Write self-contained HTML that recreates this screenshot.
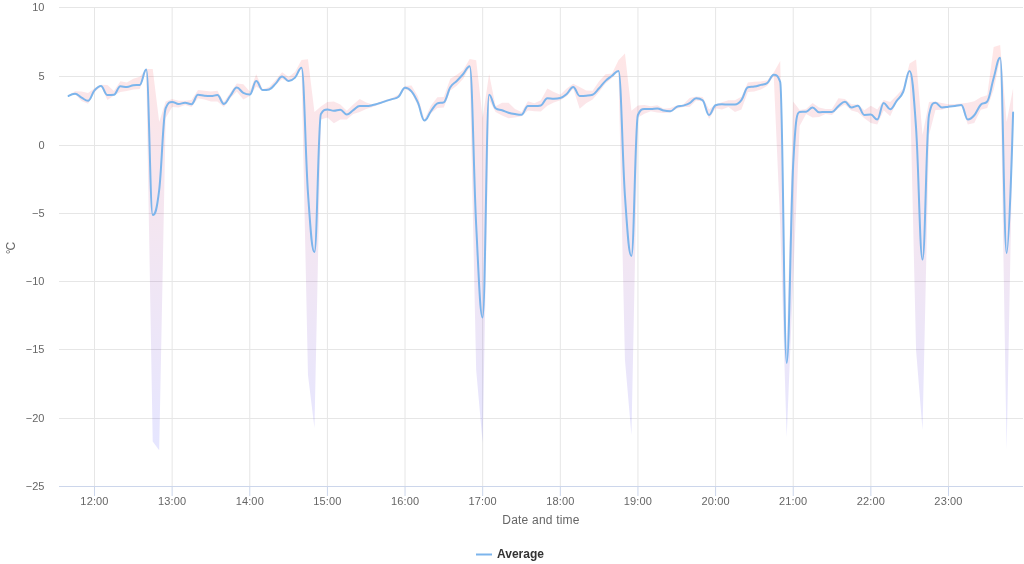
<!DOCTYPE html>
<html><head><meta charset="utf-8"><title>Chart</title>
<style>
html,body{margin:0;padding:0;background:#fff;}
body{width:1024px;height:564px;overflow:hidden;}
svg{display:block;font-family:"Liberation Sans",Arial,sans-serif;}
</style></head><body>
<svg width="1024" height="564" viewBox="0 0 1024 564">
<defs><linearGradient id="rg" x1="0" y1="0" x2="0" y2="1">
<stop offset="0" stop-color="#ff0000" stop-opacity="0.1"/>
<stop offset="1" stop-color="#0000ff" stop-opacity="0.1"/>
</linearGradient>
<clipPath id="pc"><rect x="59" y="0" width="965" height="486"/></clipPath></defs>
<rect width="1024" height="564" fill="#ffffff"/>
<g>
<g><path d="M94.50 7 V486" stroke="#e6e6e6" stroke-width="1"/><path d="M172.14 7 V486" stroke="#e6e6e6" stroke-width="1"/><path d="M249.77 7 V486" stroke="#e6e6e6" stroke-width="1"/><path d="M327.41 7 V486" stroke="#e6e6e6" stroke-width="1"/><path d="M405.04 7 V486" stroke="#e6e6e6" stroke-width="1"/><path d="M482.68 7 V486" stroke="#e6e6e6" stroke-width="1"/><path d="M560.32 7 V486" stroke="#e6e6e6" stroke-width="1"/><path d="M637.95 7 V486" stroke="#e6e6e6" stroke-width="1"/><path d="M715.59 7 V486" stroke="#e6e6e6" stroke-width="1"/><path d="M793.22 7 V486" stroke="#e6e6e6" stroke-width="1"/><path d="M870.86 7 V486" stroke="#e6e6e6" stroke-width="1"/><path d="M948.50 7 V486" stroke="#e6e6e6" stroke-width="1"/></g><g shape-rendering="crispEdges"><path d="M59 7.5 H1023" stroke="#e6e6e6" stroke-width="1"/><path d="M59 76.5 H1023" stroke="#e6e6e6" stroke-width="1"/><path d="M59 145.5 H1023" stroke="#e6e6e6" stroke-width="1"/><path d="M59 213.5 H1023" stroke="#e6e6e6" stroke-width="1"/><path d="M59 281.5 H1023" stroke="#e6e6e6" stroke-width="1"/><path d="M59 349.5 H1023" stroke="#e6e6e6" stroke-width="1"/><path d="M59 418.5 H1023" stroke="#e6e6e6" stroke-width="1"/></g>
<g clip-path="url(#pc)">
<path d="M68.62 95.20 L75.09 91.30 L81.56 91.60 L88.03 92.90 L94.50 88.20 L100.97 84.75 L107.44 85.00 L113.91 91.00 L120.38 81.20 L126.84 82.50 L133.31 78.70 L139.78 76.80 L146.25 69.00 L152.72 69.00 L159.19 122.00 L165.66 101.40 L172.13 98.90 L178.60 100.75 L185.07 100.75 L191.54 100.10 L198.00 90.10 L204.47 90.75 L210.94 91.40 L217.41 90.75 L223.88 102.00 L230.35 92.60 L236.82 83.60 L243.29 84.20 L249.76 91.40 L256.23 74.20 L262.69 89.20 L269.16 87.00 L275.63 80.10 L282.10 72.30 L288.57 77.00 L295.04 72.00 L301.51 60.10 L307.98 59.20 L314.45 112.00 L320.92 106.40 L327.38 102.00 L333.85 101.40 L340.32 104.50 L346.79 110.75 L353.26 104.50 L359.73 98.90 L366.20 102.60 L372.67 104.50 L379.14 102.00 L385.61 100.00 L392.07 98.00 L398.54 94.50 L405.01 85.90 L411.48 85.50 L417.95 96.40 L424.42 119.50 L430.89 105.80 L437.36 97.20 L443.83 97.00 L450.30 78.70 L456.76 74.75 L463.23 70.00 L469.70 59.10 L476.17 60.30 L482.64 118.00 L489.11 74.00 L495.58 106.30 L502.05 102.70 L508.52 102.70 L514.99 109.10 L521.45 112.00 L527.92 101.30 L534.39 103.30 L540.86 100.20 L547.33 88.50 L553.80 92.00 L560.27 94.75 L566.74 88.50 L573.21 83.80 L579.67 86.90 L586.14 90.50 L592.61 90.70 L599.08 81.25 L605.55 74.20 L612.02 73.40 L618.49 60.20 L624.96 53.50 L631.43 110.80 L637.90 105.60 L644.37 105.00 L650.83 106.25 L657.30 105.30 L663.77 108.75 L670.24 108.10 L676.71 105.60 L683.18 104.40 L689.65 98.10 L696.12 96.50 L702.59 97.10 L709.06 109.60 L715.52 104.20 L721.99 102.20 L728.46 100.20 L734.93 100.20 L741.40 96.80 L747.87 82.50 L754.34 81.80 L760.81 81.40 L767.28 80.20 L773.75 72.40 L780.21 61.10 L786.68 355.00 L793.15 101.40 L799.62 110.10 L806.09 108.90 L812.56 102.90 L819.03 107.60 L825.50 108.90 L831.97 108.90 L838.44 98.25 L844.90 98.90 L851.37 104.20 L857.84 104.50 L864.31 110.20 L870.78 105.80 L877.25 109.50 L883.72 100.10 L890.19 102.10 L896.66 95.40 L903.12 88.60 L909.59 63.40 L916.06 59.60 L922.53 135.00 L929.00 102.00 L935.47 101.60 L941.94 103.10 L948.41 104.30 L954.88 103.90 L961.35 103.50 L967.82 102.75 L974.28 101.20 L980.75 97.30 L987.22 95.30 L993.69 47.10 L1000.16 45.00 L1006.63 122.00 L1013.10 88.20 L1013.10 113.00 L1006.63 450.00 L1000.16 58.50 L993.69 89.60 L987.22 108.00 L980.75 109.80 L974.28 123.00 L967.82 124.60 L961.35 105.90 L954.88 106.70 L948.41 107.40 L941.94 109.80 L935.47 110.00 L929.00 135.00 L922.53 430.00 L916.06 350.00 L909.59 72.00 L903.12 93.00 L896.66 102.10 L890.19 116.30 L883.72 110.20 L877.25 124.40 L870.78 123.00 L864.31 118.30 L857.84 112.20 L851.37 110.50 L844.90 104.50 L838.44 108.25 L831.97 115.10 L825.50 113.90 L819.03 117.00 L812.56 117.60 L806.09 113.90 L799.62 126.00 L793.15 280.00 L786.68 437.00 L780.21 224.00 L773.75 76.00 L767.28 85.70 L760.81 89.60 L754.34 91.50 L747.87 92.10 L741.40 109.60 L734.93 112.00 L728.46 106.90 L721.99 109.60 L715.52 108.30 L709.06 119.00 L702.59 101.50 L696.12 100.60 L689.65 106.90 L683.18 106.90 L676.71 108.75 L670.24 112.50 L663.77 113.10 L657.30 112.50 L650.83 111.25 L644.37 113.75 L637.90 117.50 L631.43 435.00 L624.96 360.00 L618.49 71.00 L612.02 78.00 L605.55 83.60 L599.08 92.00 L592.61 99.40 L586.14 103.30 L579.67 108.80 L573.21 88.50 L566.74 96.30 L560.27 100.20 L553.80 102.60 L547.33 105.70 L540.86 111.50 L534.39 111.20 L527.92 110.50 L521.45 116.20 L514.99 117.60 L508.52 118.30 L502.05 115.50 L495.58 112.00 L489.11 100.00 L482.64 443.00 L476.17 370.00 L469.70 67.00 L463.23 78.70 L456.76 85.70 L450.30 90.40 L443.83 107.40 L437.36 108.10 L430.89 113.60 L424.42 121.80 L417.95 105.80 L411.48 92.50 L405.01 88.80 L398.54 97.80 L392.07 100.00 L385.61 102.00 L379.14 104.50 L372.67 107.00 L366.20 108.90 L359.73 112.00 L353.26 113.90 L346.79 119.50 L340.32 119.50 L333.85 123.25 L327.38 117.60 L320.92 119.50 L314.45 428.00 L307.98 375.00 L301.51 68.00 L295.04 78.60 L288.57 81.90 L282.10 78.90 L275.63 85.10 L269.16 90.10 L262.69 90.75 L256.23 86.40 L249.76 96.00 L243.29 99.50 L236.82 91.40 L230.35 98.25 L223.88 107.00 L217.41 101.40 L210.94 101.40 L204.47 99.50 L198.00 98.25 L191.54 107.00 L185.07 105.00 L178.60 107.60 L172.13 107.00 L165.66 118.00 L159.19 450.30 L152.72 441.60 L146.25 70.00 L139.78 89.00 L133.31 89.60 L126.84 90.90 L120.38 92.00 L113.91 95.40 L107.44 100.00 L100.97 86.60 L94.50 92.30 L88.03 103.80 L81.56 101.00 L75.09 94.10 L68.62 96.30 Z" fill="url(#rg)" stroke="none"/>
<path d="M 68.62 95.90 C 68.62 95.90 72.51 93.80 75.09 93.80 C 77.68 93.80 78.97 96.22 81.56 97.60 C 84.15 98.98 85.44 100.70 88.03 100.70 C 90.62 100.70 91.91 93.34 94.50 90.40 C 97.09 87.46 98.38 86.00 100.97 86.00 C 103.56 86.00 104.85 95.10 107.44 95.10 C 110.03 95.10 111.32 95.10 113.91 94.75 C 116.49 94.40 117.79 86.30 120.38 86.30 C 122.96 86.30 124.26 87.00 126.84 87.00 C 129.43 87.00 130.73 85.60 133.31 85.25 C 135.90 84.90 137.20 85.25 139.78 84.90 C 142.37 84.55 143.66 69.60 146.25 69.60 C 148.84 69.60 150.13 215.00 152.72 215.00 C 155.31 215.00 156.60 211.35 159.19 190.00 C 161.78 168.65 163.07 114.60 165.66 108.25 C 168.25 101.90 169.54 101.90 172.13 101.90 C 174.72 101.90 176.01 104.00 178.60 104.00 C 181.18 104.00 182.48 102.80 185.07 102.80 C 187.65 102.80 188.95 104.20 191.54 104.20 C 194.12 104.20 195.42 94.80 198.00 94.80 C 200.59 94.80 201.89 95.49 204.47 95.75 C 207.06 96.01 208.35 96.10 210.94 96.10 C 213.53 96.10 214.82 95.10 217.41 95.10 C 220.00 95.10 221.29 103.90 223.88 103.90 C 226.47 103.90 227.76 99.01 230.35 95.75 C 232.94 92.49 234.23 87.60 236.82 87.60 C 239.41 87.60 240.70 91.50 243.29 92.90 C 245.87 94.30 247.17 94.60 249.76 94.60 C 252.34 94.60 253.64 81.10 256.23 81.10 C 258.81 81.10 260.11 90.10 262.69 90.10 C 265.28 90.10 266.58 90.10 269.16 89.50 C 271.75 88.90 273.04 86.20 275.63 83.60 C 278.22 81.00 279.51 76.50 282.10 76.50 C 284.69 76.50 285.98 80.90 288.57 80.90 C 291.16 80.90 292.45 80.24 295.04 77.60 C 297.63 74.96 298.92 67.70 301.51 67.70 C 304.10 67.70 305.39 156.14 307.98 193.00 C 310.56 229.86 311.86 252.00 314.45 252.00 C 317.03 252.00 318.33 118.50 320.92 114.00 C 323.50 109.50 324.80 109.50 327.38 109.50 C 329.97 109.50 331.27 110.75 333.85 110.75 C 336.44 110.75 337.73 109.80 340.32 109.80 C 342.91 109.80 344.20 114.50 346.79 114.50 C 349.38 114.50 350.67 111.78 353.26 110.10 C 355.85 108.42 357.14 106.10 359.73 106.10 C 362.32 106.10 363.61 106.10 366.20 106.10 C 368.79 106.10 370.08 105.66 372.67 105.10 C 375.25 104.54 376.55 104.10 379.14 103.30 C 381.72 102.50 383.02 101.94 385.61 101.10 C 388.19 100.26 389.49 99.96 392.07 99.10 C 394.66 98.24 395.96 99.06 398.54 96.80 C 401.13 94.54 402.42 87.80 405.01 87.80 C 407.60 87.80 408.89 88.32 411.48 91.30 C 414.07 94.28 415.36 96.84 417.95 102.70 C 420.54 108.56 421.83 120.60 424.42 120.60 C 427.01 120.60 428.30 114.69 430.89 111.25 C 433.48 107.81 434.77 104.50 437.36 103.40 C 439.94 102.30 441.24 103.40 443.83 102.30 C 446.41 101.20 447.71 91.51 450.30 87.25 C 452.88 82.99 454.18 83.65 456.76 81.00 C 459.35 78.35 460.65 76.94 463.23 74.00 C 465.82 71.06 467.11 66.30 469.70 66.30 C 472.29 66.30 473.58 174.76 476.17 225.00 C 478.76 275.24 480.05 317.50 482.64 317.50 C 485.23 317.50 486.52 94.70 489.11 94.70 C 491.70 94.70 492.99 106.20 495.58 108.20 C 498.17 110.20 499.46 109.30 502.05 110.20 C 504.63 111.10 505.93 111.92 508.52 112.70 C 511.10 113.48 512.40 113.68 514.99 114.10 C 517.57 114.52 518.87 114.80 521.45 114.80 C 524.04 114.80 525.34 106.00 527.92 106.00 C 530.51 106.00 531.80 106.10 534.39 106.10 C 536.98 106.10 538.27 106.10 540.86 105.50 C 543.45 104.90 544.74 98.30 547.33 98.30 C 549.92 98.30 551.21 98.70 553.80 98.70 C 556.39 98.70 557.68 98.70 560.27 98.00 C 562.86 97.30 564.15 96.22 566.74 94.00 C 569.32 91.78 570.62 86.90 573.21 86.90 C 575.79 86.90 577.09 95.90 579.67 95.90 C 582.26 95.90 583.56 95.90 586.14 95.70 C 588.73 95.50 590.03 95.70 592.61 94.75 C 595.20 93.80 596.49 91.07 599.08 88.30 C 601.67 85.53 602.96 83.40 605.55 80.90 C 608.14 78.40 609.43 77.80 612.02 75.80 C 614.61 73.80 615.90 70.90 618.49 70.90 C 621.08 70.90 622.37 158.98 624.96 196.00 C 627.55 233.02 628.84 256.00 631.43 256.00 C 634.01 256.00 635.31 120.90 637.90 115.00 C 640.48 109.10 641.78 109.10 644.37 109.10 C 646.95 109.10 648.25 109.10 650.83 109.10 C 653.42 109.10 654.72 108.40 657.30 108.40 C 659.89 108.40 661.18 110.03 663.77 110.60 C 666.36 111.17 667.65 111.25 670.24 111.25 C 672.83 111.25 674.12 108.03 676.71 106.90 C 679.30 105.77 680.59 106.36 683.18 105.60 C 685.77 104.84 687.06 104.56 689.65 103.10 C 692.24 101.64 693.53 98.30 696.12 98.30 C 698.70 98.30 700.00 98.30 702.59 100.20 C 705.17 102.10 706.47 115.00 709.06 115.00 C 711.64 115.00 712.94 106.20 715.52 105.20 C 718.11 104.20 719.41 104.20 721.99 104.20 C 724.58 104.20 725.87 104.60 728.46 104.60 C 731.05 104.60 732.34 104.60 734.93 104.60 C 737.52 104.60 738.81 103.66 741.40 100.20 C 743.99 96.74 745.28 88.00 747.87 87.30 C 750.46 86.60 751.75 87.08 754.34 86.60 C 756.93 86.12 758.22 85.62 760.81 84.90 C 763.39 84.18 764.69 84.90 767.28 83.00 C 769.86 81.10 771.16 74.75 773.75 74.75 C 776.33 74.75 777.63 74.75 780.21 82.00 C 782.80 89.25 784.10 363.00 786.68 363.00 C 789.27 363.00 790.56 215.20 793.15 165.00 C 795.74 114.80 797.03 112.30 799.62 112.00 C 802.21 111.70 803.50 112.00 806.09 111.70 C 808.68 111.40 809.97 107.60 812.56 107.60 C 815.15 107.60 816.44 112.30 819.03 112.30 C 821.62 112.30 822.91 111.90 825.50 111.90 C 828.08 111.90 829.38 112.00 831.97 112.00 C 834.55 112.00 835.85 108.16 838.44 106.10 C 841.02 104.04 842.32 101.70 844.90 101.70 C 847.49 101.70 848.79 107.50 851.37 107.50 C 853.96 107.50 855.25 105.80 857.84 105.80 C 860.43 105.80 861.72 114.90 864.31 114.90 C 866.90 114.90 868.19 114.60 870.78 114.60 C 873.37 114.60 874.66 119.60 877.25 119.60 C 879.84 119.60 881.13 103.10 883.72 103.10 C 886.31 103.10 887.60 109.20 890.19 109.20 C 892.77 109.20 894.07 104.24 896.66 100.80 C 899.24 97.36 900.54 97.96 903.12 92.00 C 905.71 86.04 907.01 71.00 909.59 71.00 C 912.18 71.00 913.48 90.28 916.06 128.00 C 918.65 165.72 919.94 259.60 922.53 259.60 C 925.12 259.60 926.41 127.25 929.00 115.00 C 931.59 102.75 932.88 102.75 935.47 102.75 C 938.06 102.75 939.35 107.40 941.94 107.40 C 944.53 107.40 945.82 107.00 948.41 106.70 C 951.00 106.40 952.29 106.26 954.88 105.90 C 957.46 105.54 958.76 104.90 961.35 104.90 C 963.93 104.90 965.23 119.50 967.82 119.50 C 970.40 119.50 971.70 118.21 974.28 115.25 C 976.87 112.29 978.17 107.45 980.75 104.70 C 983.34 101.95 984.63 104.70 987.22 101.50 C 989.81 98.30 991.10 86.76 993.69 78.00 C 996.28 69.24 997.57 57.70 1000.16 57.70 C 1002.75 57.70 1004.04 253.00 1006.63 253.00 C 1009.22 253.00 1013.10 112.50 1013.10 112.50" fill="none" stroke="#7cb5ec" stroke-width="2" stroke-linejoin="round" stroke-linecap="round"/>
</g>
<g shape-rendering="crispEdges"><path d="M59 486.5 H1023" stroke="#ccd6eb" stroke-width="1"/></g><g><path d="M94.50 487 V496" stroke="#ccd6eb" stroke-width="1"/><path d="M172.14 487 V496" stroke="#ccd6eb" stroke-width="1"/><path d="M249.77 487 V496" stroke="#ccd6eb" stroke-width="1"/><path d="M327.41 487 V496" stroke="#ccd6eb" stroke-width="1"/><path d="M405.04 487 V496" stroke="#ccd6eb" stroke-width="1"/><path d="M482.68 487 V496" stroke="#ccd6eb" stroke-width="1"/><path d="M560.32 487 V496" stroke="#ccd6eb" stroke-width="1"/><path d="M637.95 487 V496" stroke="#ccd6eb" stroke-width="1"/><path d="M715.59 487 V496" stroke="#ccd6eb" stroke-width="1"/><path d="M793.22 487 V496" stroke="#ccd6eb" stroke-width="1"/><path d="M870.86 487 V496" stroke="#ccd6eb" stroke-width="1"/><path d="M948.50 487 V496" stroke="#ccd6eb" stroke-width="1"/></g>
<g font-size="11" fill="#666666"><text x="44.5" y="10.5" text-anchor="end">10</text><text x="44.5" y="79.5" text-anchor="end">5</text><text x="44.5" y="148.5" text-anchor="end">0</text><text x="44.5" y="216.5" text-anchor="end">−5</text><text x="44.5" y="284.5" text-anchor="end">−10</text><text x="44.5" y="352.5" text-anchor="end">−15</text><text x="44.5" y="421.5" text-anchor="end">−20</text><text x="44.5" y="489.5" text-anchor="end">−25</text><text x="94.50" y="504.5" text-anchor="middle" letter-spacing="0.15">12:00</text><text x="172.14" y="504.5" text-anchor="middle" letter-spacing="0.15">13:00</text><text x="249.77" y="504.5" text-anchor="middle" letter-spacing="0.15">14:00</text><text x="327.41" y="504.5" text-anchor="middle" letter-spacing="0.15">15:00</text><text x="405.04" y="504.5" text-anchor="middle" letter-spacing="0.15">16:00</text><text x="482.68" y="504.5" text-anchor="middle" letter-spacing="0.15">17:00</text><text x="560.32" y="504.5" text-anchor="middle" letter-spacing="0.15">18:00</text><text x="637.95" y="504.5" text-anchor="middle" letter-spacing="0.15">19:00</text><text x="715.59" y="504.5" text-anchor="middle" letter-spacing="0.15">20:00</text><text x="793.22" y="504.5" text-anchor="middle" letter-spacing="0.15">21:00</text><text x="870.86" y="504.5" text-anchor="middle" letter-spacing="0.15">22:00</text><text x="948.50" y="504.5" text-anchor="middle" letter-spacing="0.15">23:00</text></g>
<text x="541" y="523.5" text-anchor="middle" font-size="12" letter-spacing="0.2" fill="#666666">Date and time</text>
<text transform="translate(14.5 248.5) rotate(-90)" text-anchor="middle" font-size="12" letter-spacing="-1" fill="#666666">°C</text>
<path d="M476 554.5 H492" stroke="#7cb5ec" stroke-width="2"/>
<text x="497" y="558" font-size="12" font-weight="bold" fill="#333333">Average</text>
</g>
</svg>
</body></html>
